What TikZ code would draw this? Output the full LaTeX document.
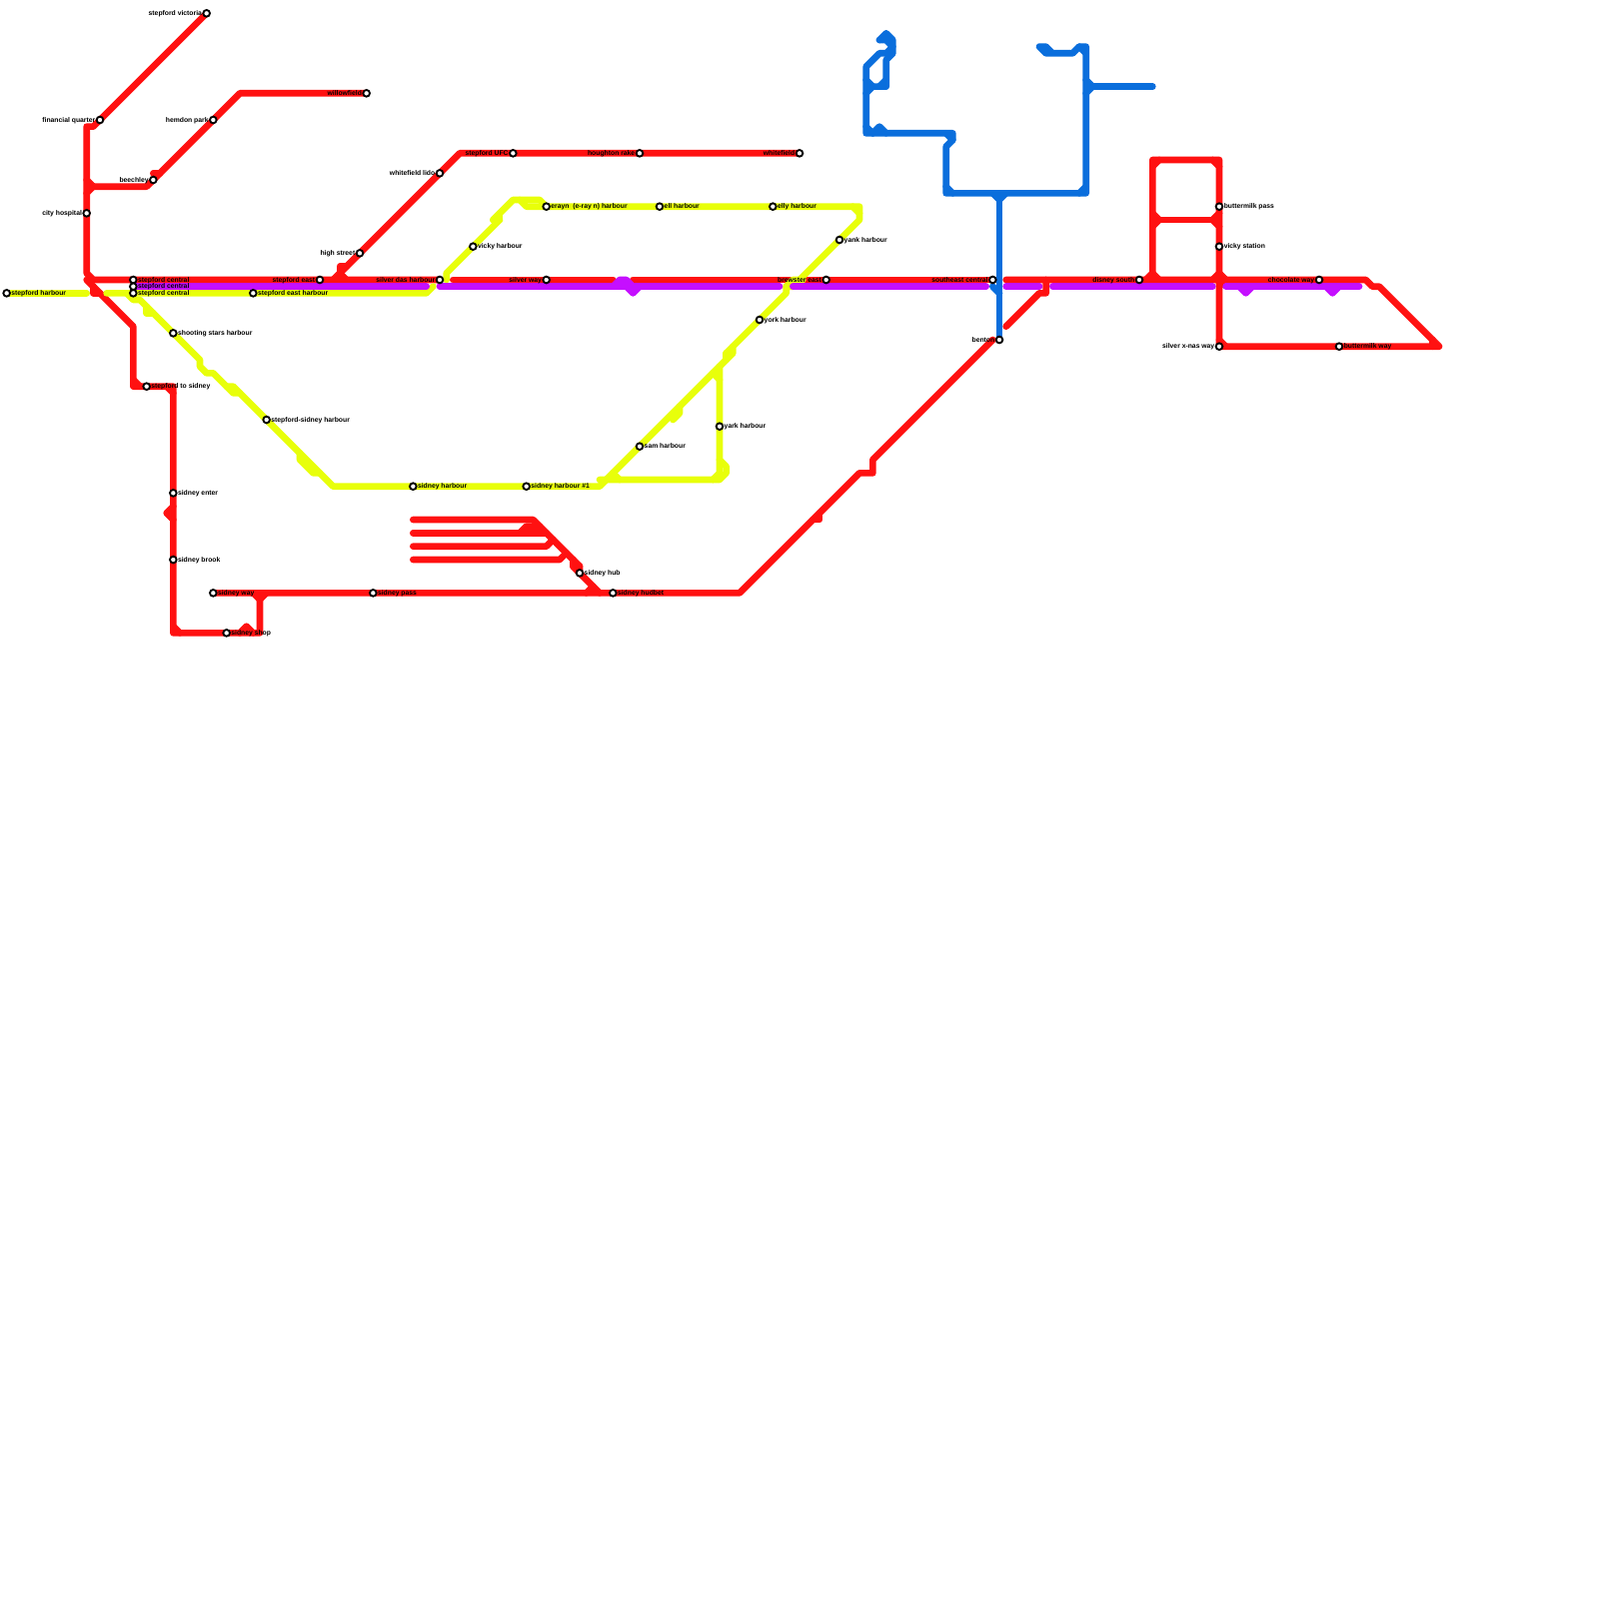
\documentclass[tikz,border=0pt]{standalone}
\usepackage{fontspec}
\setmainfont{Liberation Sans}
\usetikzlibrary{backgrounds}
\definecolor{redline}{RGB}{255,17,17}
\definecolor{yellowline}{RGB}{232,255,10}
\definecolor{purpleline}{RGB}{197,15,255}
\definecolor{blueline}{RGB}{10,110,220}
\newcommand{\stnfont}{\fontsize{2.9pt}{3pt}\selectfont\bfseries}
\tikzset{
 stn/.style={circle,draw=black,fill=white,line width=.28mm,inner sep=0pt,minimum size=1mm,
   label distance=.1mm},
 lbltext/.style={font=\stnfont,inner sep=0pt,text height=.85mm,text depth=.2mm},
 rl/.style={label={[lbltext]right:#1}},
 ll/.style={label={[lbltext]left:#1}},
 track/.style={line width=1mm,line cap=round,line join=round}
}
\begin{document}
\begin{tikzpicture}[x=1mm,y=-1mm]
\useasboundingbox (0,0) rectangle (240,240);
% stations
\node[stn,ll=stepford victoria] (victoria) at (31,2) {};
\node[stn,ll=financial quarter] (financial) at (15,18) {};
\node[stn,ll=hemdon park] (hemdon) at (32,18) {};
\node[stn,ll=willowfield] (willowfield) at (55,14) {};
\node[stn,ll=beechley] (beechley) at (23,27) {};
\node[stn,ll=city hospital] (cityhospital) at (13,32) {};
\node[stn,ll=high street] (highstreet) at (54,38) {};
\node[stn,ll=whitefield lido] (lido) at (66,26) {};
\node[stn,rl=stepford central] (centralred) at (20,42) {};
\node[stn,rl=stepford central] (centralpurple) at (20,43) {};
\node[stn,rl=stepford central] (centralyellow) at (20,44) {};
\node[stn,ll=stepford east] (east) at (48,42) {};
\node[stn,ll=silver das harbour] (silverdas) at (66,42) {};
\node[stn,rl=stepford harbour] (stepharbour) at (1,44) {};
\node[stn,rl=stepford east harbour] (eastharbour) at (38,44) {};
\node[stn,rl=shooting stars harbour] (shooting) at (26,50) {};
\node[stn,rl=stepford to sidney] (tosidney) at (22,58) {};
\node[stn,rl=sidney enter] (enter) at (26,74) {};
\node[stn,rl=sidney brook] (brook) at (26,84) {};
\node[stn,rl=sidney way] (sidway) at (32,89) {};
\node[stn,rl=sidney pass] (sidpass) at (56,89) {};
\node[stn,rl=sidney shop] (sidshop) at (34,95) {};
\node[stn,rl=stepford-sidney harbour] (stepsid) at (40,63) {};
\node[stn,rl=sidney harbour] (sidharbour) at (62,73) {};
\node[stn,rl=sidney harbour \#1] (sidharbourone) at (79,73) {};
\node[stn,rl=sidney hub] (sidhub) at (87,86) {};
\node[stn,rl=sidney hudbet] (hudbet) at (92,89) {};
\node[stn,ll=stepford UFC] (ufc) at (77,23) {};
\node[stn,ll=houghton rake] (houghton) at (96,23) {};
\node[stn,ll=whitefield] (whitefield) at (120,23) {};
\node[stn,rl={erayn \ (e-ray n) harbour}] (erayn) at (82,31) {};
\node[stn,rl=ell harbour] (ell) at (99,31) {};
\node[stn,rl=elly harbour] (elly) at (116,31) {};
\node[stn,rl=yank harbour] (yank) at (126,36) {};
\node[stn,rl=vicky harbour] (vicky) at (71,37) {};
\node[stn,ll=silver way] (silverway) at (82,42) {};
\node[stn,ll=brewster east] (brewster) at (124,42) {};
\node[stn,rl=york harbour] (york) at (114,48) {};
\node[stn,rl=sam harbour] (sam) at (96,67) {};
\node[stn,rl=yark harbour] (yark) at (108,64) {};
\node[stn,ll=southeast central] (southeast) at (149,42) {};
\node[stn,ll=benton] (benton) at (150,51) {};
\node[stn,ll=disney south] (disney) at (171,42) {};
\node[stn,rl=buttermilk pass] (butterpass) at (183,31) {};
\node[stn,rl=vicky station] (vickystn) at (183,37) {};
\node[stn,ll=chocolate way] (chocolate) at (198,42) {};
\node[stn,ll=silver x-nas way] (xnas) at (183,52) {};
\node[stn,rl=buttermilk way] (butterway) at (201,52) {};
\begin{scope}[on background layer]
% red
\begin{scope}[track,draw=redline]
\draw (victoria.center) -- (14,19) -- (13,19) -- (13,41) -- (14,42) -- (silverdas.center);
\draw (13,27) -- (14,28) -- (13,29);
\draw (14,28) -- (22,28) -- (36,14) -- (willowfield.center);
\draw (23,26) -- (24,26);
\draw (13,42) -- (20,49) -- (20,58) -- (26,58) -- (26,95) -- (39,95) -- (39,90);
\draw (20,57) -- (21,58);
\draw (14,43) -- (14,44) -- (15,44);
\draw (25,58) -- (26,59);
\draw (26,76) -- (25,77) -- (26,78);
\draw (26,94) -- (27,95);
\draw (36,95) -- (37,94) -- (38,95);
\draw (38,89) -- (39,90) -- (40,89);
\draw (sidway.center) -- (111,89) -- (129,71) -- (131,71) -- (131,69) -- (149,51);
\draw (123,77) -- (123,78) -- (122,78);
\draw (50,42) -- (69,23) -- (whitefield.center);
\draw (51,41) -- (51,40) -- (52,40);
\draw (51,41) -- (52,42);
\draw (68,42) -- (92,42);
\draw (95,42) -- (southeast.center);
\draw (151,42) -- (205,42) -- (206,43) -- (207,43) -- (216,52) -- (xnas.center) -- (183,24) -- (173,24) -- (173,41);
\draw (172,42) -- (173,41) -- (174,42);
\draw (173,25) -- (174,24);
\draw (182,24) -- (183,25);
\draw (173,32) -- (174,33) -- (173,34);
\draw (174,33) -- (182,33);
\draw (183,32) -- (182,33) -- (183,34);
\draw (182,42) -- (183,41) -- (184,42) -- (183,43);
\draw (183,51) -- (184,52);
\draw (215,51) -- (215,52);
\draw (151,49) -- (156,44) -- (157,44) -- (157,42);
\draw (62,78) -- (80,78) -- (87,85) -- (87,86) -- (90,89);
\draw (62,80) -- (82,80);
\draw (78,80) -- (79,79) -- (81,79);
\draw (62,82) -- (82,82) -- (83,81);
\draw (62,84) -- (84,84) -- (85,83);
\draw (86,84) -- (86,85) -- (87,85);
\draw (86,85) -- (87,86);
\draw (88,89) -- (89,88);
\end{scope}
% yellow
\begin{scope}[track,draw=yellowline]
\draw (stepharbour.center) -- (13,44);
\draw (16,44) -- (64,44) -- (65,43);
\draw (19,44) -- (20,45) -- (21,45) -- (30,54) -- (30,55) -- (31,56) -- (32,56) -- (35,59) -- (36,59) -- (50,73) -- (90,73) -- (110,53) -- (110,52) -- (118,44) -- (118,43) -- (119,43) -- (129,33) -- (129,31) -- (79,31) -- (78,30) -- (77,30) -- (74,33) -- (75,33) -- (67,41) -- (67,42);
\draw (22,46) -- (22,47) -- (23,47);
\draw (34,58) -- (35,58) -- (36,59);
\draw (45,68) -- (45,69) -- (47,71) -- (48,71);
\draw (78,30) -- (81,30) -- (82,31);
\draw (75,32) -- (75,33);
\draw (128,31) -- (129,32);
\draw (118,43) -- (119,42) -- (120.5,42);
\draw (101,63) -- (102,62) -- (102,61);
\draw (109,53) -- (110,52);
\draw (109,53) -- (109,54);
\draw (107,56) -- (108,57);
\draw (108,55) -- (108,69) -- (109,70) -- (109,71) -- (108,72) -- (90,72);
\draw (108,69) -- (108,71) -- (107,72);
\draw (92,71) -- (93,72);
\end{scope}
% purple
\begin{scope}[track,draw=purpleline]
\draw (centralpurple.center) -- (64,43);
\draw (66,43) -- (117,43);
\draw (92,43) -- (93,42) -- (94,42) -- (95,43);
\draw (94,43) -- (95,44) -- (96,43);
\draw (119,43) -- (148,43);
\draw (151,43) -- (156,43);
\draw (158,43) -- (182,43);
\draw (184,43) -- (204,43);
\draw (186,43) -- (187,44) -- (188,43);
\draw (199,43) -- (200,44) -- (201,43);
\end{scope}
% blue
\begin{scope}[track,draw=blueline]
\draw (132,6) -- (133,5) -- (134,6) -- (134,8) -- (133,9) -- (133,13) -- (131,13);
\draw (132,6) -- (133,6) -- (134,7) -- (133,8) -- (132,8) -- (130,10) -- (130,20) -- (143,20) -- (143,21) -- (142,22) -- (142,29) -- (163,29) -- (163,7) -- (162,7) -- (161,8) -- (158,8) -- (157,7) -- (156,7) -- (157,8) -- (158,8);
\draw (130,12) -- (131,13) -- (130,14);
\draw (132,13) -- (133,12);
\draw (130,19) -- (131,20);
\draw (131,20) -- (132,19) -- (133,20);
\draw (142,20) -- (143,21);
\draw (142,28) -- (143,29);
\draw (162,29) -- (163,28);
\draw (162,7) -- (163,8);
\draw (163,12) -- (164,13) -- (163,14);
\draw (164,13) -- (173,13);
\draw (149,29) -- (150,30) -- (151,29);
\draw (150,30) -- (benton.center);
\draw (149,43) -- (150,44);
\end{scope}
\end{scope}
\end{tikzpicture}
\end{document}
